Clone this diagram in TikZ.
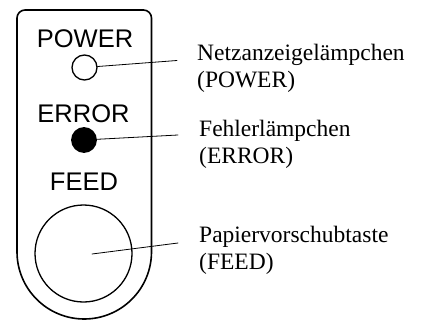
\documentclass[tikz,border=0pt]{standalone}
\usepackage{fontspec}
\setmainfont{Liberation Serif}
\newfontfamily\panelfont{Liberation Sans}
\begin{document}
\begin{tikzpicture}[x=1pt, y=-1pt, line cap=round, line join=round,
    paneltext/.style={font=\panelfont\fontsize{25.5}{28}\selectfont, anchor=base, inner sep=0pt},
    lamp/.style={circle, draw, line width=1.3pt, inner sep=0pt},
    lbl/.style={font=\fontsize{23.5}{27}\selectfont, align=left, anchor=base west, inner sep=0pt},
    leader/.style={line width=0.8pt}]
  \useasboundingbox (0,0) rectangle (422,320);

  % Panel outline
  \draw[line width=1.6pt] (17,251.75) -- (17,18) arc[start angle=180, end angle=270, radius=8]
    -- (143.5,10) arc[start angle=270, end angle=360, radius=8]
    -- (151.5,251.75) arc[start angle=0, end angle=180, radius=67.25] -- cycle;

  % Panel texts
  \node[paneltext] (pwrtxt) at (85,48) {POWER};
  \node[paneltext] (errtxt) at (83.5,123) {ERROR};
  \node[paneltext] (feedtxt) at (84,190) {FEED};

  % Lamps and key
  \node[lamp, minimum size=25pt] (pwr) at (84.5,67.5) {};
  \node[lamp, minimum size=24.5pt, fill=black] (err) at (84,140) {};
  \node[lamp, minimum size=97pt] (feed) at (83.5,253.5) {};

  % Labels (anchored at the baseline of the second line)
  \node[lbl] (pwrlbl) at (197,88) {Netzanzeigelämpchen\\(POWER)};
  \node[lbl] (errlbl) at (199,164) {Fehlerlämpchen\\(ERROR)};
  \node[lbl] (feedlbl) at (199,269) {Papiervorschubtaste\\(FEED)};

  % Leaders
  \coordinate (pwrend) at (177,60.5);
  \coordinate (errend) at (178,135);
  \coordinate (feedpt) at (92,254);
  \coordinate (feedend) at (178,243);
  \draw[leader] (pwr) -- (pwrend);
  \draw[leader] (err) -- (errend);
  \draw[leader] (feedpt) -- (feedend);
\end{tikzpicture}
\end{document}
